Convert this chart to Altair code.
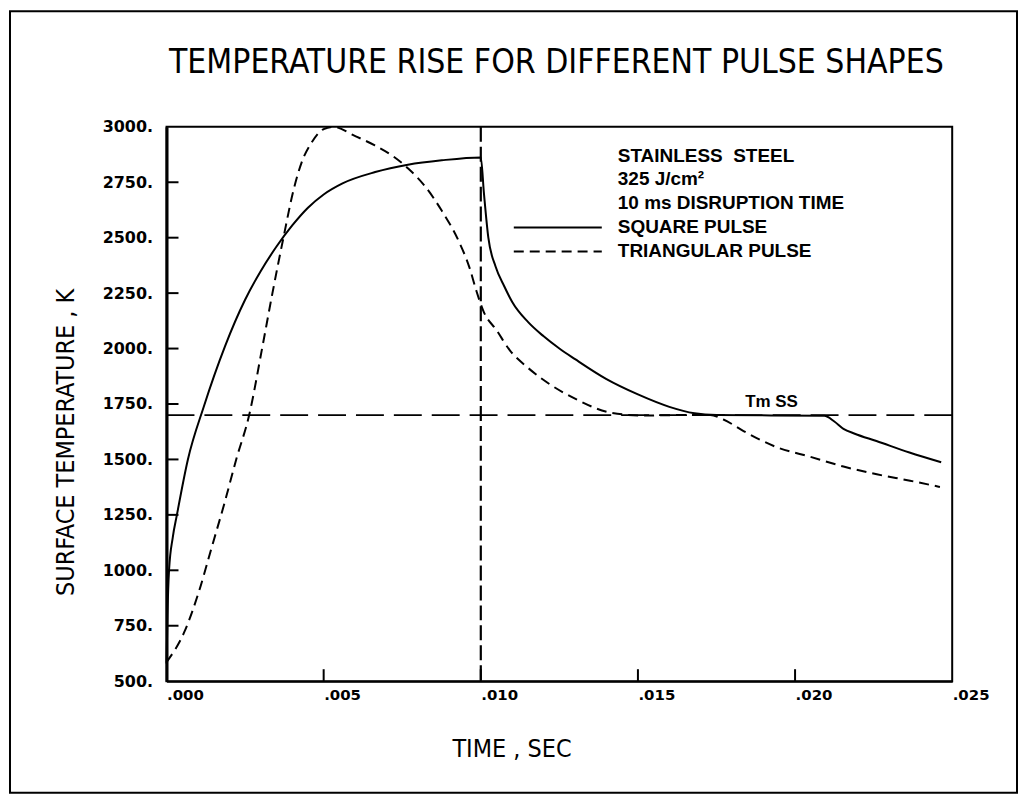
import altair as alt
import pandas as pd

# ---------------- data ----------------
square_t = [0.0, 0.00003, 0.00008, 0.0002, 0.00033, 0.00068, 0.00119, 0.00186,
            0.0025, 0.0030, 0.0035, 0.0040, 0.0045, 0.0050, 0.0056, 0.00664, 0.00768,
            0.00876, 0.0100,
            0.0101, 0.01024, 0.01047, 0.01075, 0.0110, 0.0115, 0.0120, 0.0125, 0.0130,
            0.0140, 0.0150, 0.0160, 0.0168, 0.0175,
            0.02093, 0.02125, 0.02154, 0.0219, 0.02259, 0.02364, 0.02465]
square_T = [580, 800, 1000, 1150, 1250, 1500, 1740, 2010,
            2220, 2350, 2460, 2555, 2635, 2695, 2745, 2796, 2829,
            2849, 2862,
            2700, 2500, 2370, 2280, 2210, 2120, 2055, 2000, 1952,
            1862, 1793, 1737, 1708, 1700,
            1697, 1671, 1638, 1616, 1583, 1531, 1487]

tri_t = [0.0, 0.00057, 0.00103, 0.00143, 0.00183, 0.00223, 0.00263, 0.00304,
         0.00337, 0.00372, 0.00405, 0.0043, 0.00462, 0.005, 0.0053, 0.00599,
         0.00663, 0.00716, 0.00769, 0.00823, 0.00877, 0.0093, 0.00964, 0.00986,
         0.01008, 0.01051, 0.01093, 0.01147, 0.012, 0.01307, 0.01413, 0.01519,
         0.01624, 0.0173, 0.01772, 0.01836, 0.01942, 0.02048, 0.02154, 0.0226,
         0.02366, 0.02461]
tri_T = [586, 723, 904, 1100, 1296, 1506, 1700, 2000,
         2250, 2500, 2720, 2840, 2930, 2990, 3000, 2959,
         2916, 2872, 2812, 2731, 2619, 2484, 2365, 2260,
         2170, 2081, 1991, 1917, 1858, 1769, 1711, 1698,
         1700, 1700, 1680, 1628, 1555, 1512, 1468, 1433,
         1404, 1376]

melt_T = [1700]
disruption_t = [0.010]

x_tick_values = [0.0, 0.005, 0.010, 0.015, 0.020, 0.025]
x_inner_ticks = [0.005, 0.010, 0.015, 0.020]
y_tick_values = [500, 750, 1000, 1250, 1500, 1750, 2000, 2250, 2500, 2750, 3000]
y_inner_ticks = [750, 1000, 1250, 1500, 1750, 2000, 2250, 2500, 2750]

title_text = ["TEMPERATURE RISE FOR DIFFERENT PULSE SHAPES"]

note_labels = ["STAINLESS\u00a0\u00a0STEEL", "325 J/cm\u00b2", "10 ms DISRUPTION TIME",
               "SQUARE PULSE", "TRIANGULAR PULSE"]
note_t = [0.01436, 0.01436, 0.01436, 0.01436, 0.01436]
note_T = [2870, 2765, 2658, 2546, 2438]

legend_t = [0.01105]
legend_t2 = [0.01385]
legend_solid_T = [2546]
legend_dash_T = [2438]

melt_label = ["Tm SS"]
melt_label_t = [0.01925]
melt_label_T = [1757]

# ---------------- chart ----------------
W, H = 788, 556
NARROW = "Liberation Sans Narrow, DejaVu Sans Condensed, Arial Narrow, sans-serif"
BOLD = "Liberation Sans, Arial, sans-serif"

xs = alt.Scale(domain=[0, 0.025], nice=False, zero=False)
ys = alt.Scale(domain=[500, 3000], nice=False, zero=False)

x_axis = alt.Axis(
    values=x_tick_values,
    labelExpr="replace(format(datum.value, '.3f'), '0.', '.')",
    tickSize=0, labelPadding=6, labelFont="DejaVu Sans", labelFontWeight="bold",
    labelFontSize=15, labelColor="black", labelAlign="left",
    domainColor="black", domainWidth=2, grid=False,
    title="TIME , SEC", titleFont=NARROW, titleFontSize=25, titleFontWeight="normal",
    titleColor="black", titleX=346, titleY=68, titleAlign="center", titleBaseline="middle",
)
y_axis = alt.Axis(
    values=y_tick_values,
    labelExpr="datum.value + '.'",
    tickSize=0, labelPadding=14, labelFont="DejaVu Sans", labelFontWeight="bold",
    labelFontSize=16, labelColor="black",
    domainColor="black", domainWidth=3, grid=False,
    title="SURFACE TEMPERATURE , K", titleFont=NARROW, titleFontSize=25,
    titleFontWeight="normal", titleColor="black", titleX=-101, titleY=316,
    titleAlign="center", titleBaseline="middle", titleAngle=-90,
)

df_sq = pd.DataFrame({"t": square_t, "T": square_T})
df_tri = pd.DataFrame({"t": tri_t, "T": tri_T})

square = alt.Chart(df_sq).mark_line(color="black", strokeWidth=2, interpolate="monotone").encode(
    x=alt.X("t:Q", scale=xs, axis=x_axis),
    y=alt.Y("T:Q", scale=ys, axis=y_axis),
)
tri = alt.Chart(df_tri).mark_line(
    color="black", strokeWidth=2, strokeDash=[10, 6], interpolate="monotone"
).encode(x=alt.X("t:Q", scale=xs), y=alt.Y("T:Q", scale=ys))
melt = alt.Chart(pd.DataFrame({"T": melt_T})).mark_rule(
    color="black", strokeWidth=1.6, strokeDash=[28, 10]
).encode(y=alt.Y("T:Q", scale=ys))
vline = alt.Chart(pd.DataFrame({"t": disruption_t})).mark_rule(
    color="black", strokeWidth=2.2, strokeDash=[15, 5]
).encode(x=alt.X("t:Q", scale=xs))

leg_solid = alt.Chart(pd.DataFrame({"t": legend_t, "t2": legend_t2, "T": legend_solid_T})).mark_rule(
    color="black", strokeWidth=2
).encode(x=alt.X("t:Q", scale=xs), x2="t2:Q", y=alt.Y("T:Q", scale=ys))
leg_dash = alt.Chart(pd.DataFrame({"t": legend_t, "t2": legend_t2, "T": legend_dash_T})).mark_rule(
    color="black", strokeWidth=2, strokeDash=[10, 6]
).encode(x=alt.X("t:Q", scale=xs), x2="t2:Q", y=alt.Y("T:Q", scale=ys))

notes = alt.Chart(pd.DataFrame({"t": note_t, "T": note_T, "label": note_labels})).mark_text(
    align="left", baseline="middle", font=BOLD, fontWeight="bold", fontSize=19, color="black"
).encode(x=alt.X("t:Q", scale=xs), y=alt.Y("T:Q", scale=ys), text="label:N")

melt_text = alt.Chart(pd.DataFrame({"t": melt_label_t, "T": melt_label_T, "label": melt_label})).mark_text(
    align="center", baseline="middle", font=BOLD, fontWeight="bold", fontSize=17, color="black"
).encode(x=alt.X("t:Q", scale=xs), y=alt.Y("T:Q", scale=ys), text="label:N")

yticks = alt.Chart(pd.DataFrame({"T": y_inner_ticks})).mark_rule(color="black", strokeWidth=2).encode(
    y=alt.Y("T:Q", scale=ys), x=alt.value(0), x2=alt.value(12)
)
xticks = alt.Chart(pd.DataFrame({"t": x_inner_ticks})).mark_rule(color="black", strokeWidth=2).encode(
    x=alt.X("t:Q", scale=xs), y=alt.value(H), y2=alt.value(H - 12)
)

title = alt.Chart(pd.DataFrame({"label": title_text})).mark_text(
    align="center", baseline="alphabetic", font=NARROW, fontSize=33.5, color="black"
).encode(x=alt.value(391), y=alt.value(-54), text="label:N")

frame = alt.Chart(pd.DataFrame({"a": [0]})).mark_rect(
    fillOpacity=0, stroke="black", strokeWidth=2
).encode(x=alt.value(-157), x2=alt.value(853), y=alt.value(-116), y2=alt.value(668))

chart = alt.layer(
    frame, title, melt, vline, tri, square, leg_solid, leg_dash, notes, melt_text, yticks, xticks
).properties(
    width=W, height=H,
    padding={"left": 159, "top": 118, "right": 66, "bottom": 114},
    autosize=alt.AutoSizeParams(type="none"),
    background="white",
).configure_view(stroke="black", strokeWidth=2)

chart.save("out.html", embed_options={"renderer": "svg", "actions": False})
